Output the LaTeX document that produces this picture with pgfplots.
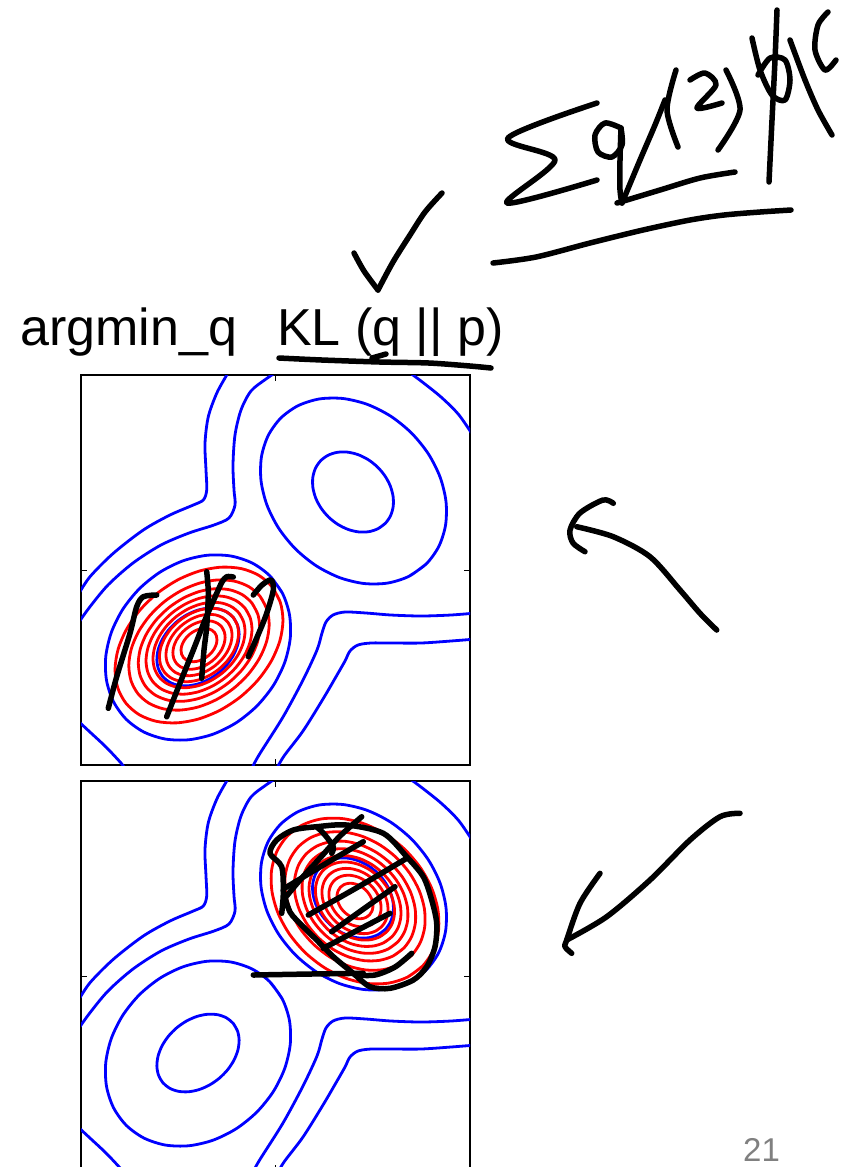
\documentclass[border=0pt]{standalone}
\usepackage{pgfplots}
\usepackage{pgfplotstable}
\usepackage{fontspec}
\setmainfont{Liberation Sans}
\pgfplotsset{compat=1.18}

\definecolor{pblue}{RGB}{0,0,255}
\definecolor{qred}{RGB}{255,0,0}
\definecolor{pagenum}{RGB}{128,128,128}

% unit circle, 15 degree steps (first two points repeated to close the curve)
\pgfplotstableread{
c s
1 0
0.9659 0.2588
0.8660 0.5
0.7071 0.7071
0.5 0.8660
0.2588 0.9659
0 1
-0.2588 0.9659
-0.5 0.8660
-0.7071 0.7071
-0.8660 0.5
-0.9659 0.2588
-1 0
-0.9659 -0.2588
-0.8660 -0.5
-0.7071 -0.7071
-0.5 -0.8660
-0.2588 -0.9659
0 -1
0.2588 -0.9659
0.5 -0.8660
0.7071 -0.7071
0.8660 -0.5
0.9659 -0.2588
1 0
0.9659 0.2588
}\unitcircle

% elliptical contour: style, centre u, centre v, semi-axes a, b, tilt (deg)
\newcommand\contourellipse[6]{%
  \addplot[#1] table[
    x expr={#2+(#4)*\thisrow{c}*cos(#6)+(#5)*\thisrow{s}*sin(#6)},
    y expr={#3-(#4)*\thisrow{c}*sin(#6)+(#5)*\thisrow{s}*cos(#6)}] {\unitcircle};}

\pgfplotsset{
  panel/.style={anchor=north west, width=389pt, height=390pt, scale only axis,
    xmin=0, xmax=389, ymin=0, ymax=390, y dir=reverse,
    xtick={194.5}, ytick={195}, xticklabels={}, yticklabels={},
    axis line style={black, line width=1.8pt},
    major tick style={black, line width=1pt}, major tick length=6pt},
  pline/.style={pblue, line width=2.8pt, smooth, mark=none},
  qline/.style={qred, line width=2.8pt, smooth, mark=none},
  ink/.style={black, line width=5.5pt, line cap=round, line join=round, smooth, mark=none},
}
\tikzset{heading/.style={anchor=base west, inner sep=0pt, font=\fontsize{52}{62}\selectfont}}

% the mixture p: contour lines shared by both panels
\newcommand\mixturecontours{%
  \addplot[pline] coordinates {(150,-8) (145.7,0) (135.7,18.3) (127.3,41.7) (124,68.3) (125,95) (125.7,115) (122.3,125) (112.3,130) (89,140) (62.3,155) (32.3,178.3) (9,201.7) (-3,220)};
  \addplot[pline] coordinates {(200,-6) (185,4) (170,16) (160,35) (154,60) (152,90) (153,115) (154,130) (148,143) (133,150) (108,158) (80,170) (52,188) (27,210) (8,233) (-4,250)};
  \addplot[pline] coordinates {(-4,345) (10,358) (25,372) (40,388) (44,394)};
  \addplot[pline] coordinates {(325,-5) (340,6) (360,22) (378,40) (395,65)};
  \addplot[pline] coordinates {(395,238) (370,240) (340,241) (310,240) (285,238) (264,237) (252,240) (245,247) (241,258) (236,275) (222,305) (202,342) (178,380) (170,395)};
  \addplot[pline] coordinates {(395,264) (370,266) (340,268) (310,268) (290,268) (277,270) (269,276) (264,286) (256,300) (242,324) (222,356) (203,381) (195,395)};
  \contourellipse{pline}{117}{272.5}{101.5}{83}{45}
  \contourellipse{pline}{117}{272}{46}{33}{40}
  \contourellipse{pline}{272.5}{116}{103}{82}{-45}
  \contourellipse{pline}{272}{117}{45}{35}{-44}
}

\begin{document}
\begin{tikzpicture}[x=1pt,y=1pt]
\useasboundingbox (0,0) rectangle (841,-1167);

% upper panel: q at the lower-left mode
\begin{axis}[panel, at={(81pt,-375pt)}]
  \mixturecontours
  \pgfplotsinvokeforeach{1,0.836,0.723,0.631,0.548,0.471,0.394,0.311,0.214}{
    \contourellipse{qline}{118}{270}{93.4*#1}{66.4*#1}{38.5}
  }
\end{axis}

% lower panel: q at the upper-right mode
\begin{axis}[panel, at={(81pt,-781pt)}]
  \mixturecontours
  \pgfplotsinvokeforeach{1,0.836,0.723,0.631,0.548,0.471,0.394,0.311,0.214}{
    \contourellipse{qline}{274}{120}{93.8*#1}{71.7*#1}{-43.7}
  }
\end{axis}

% page layer: heading, pen annotations, page number
\begin{axis}[anchor=north west, at={(0pt,0pt)}, width=841pt, height=1167pt,
  scale only axis, xmin=0, xmax=841, ymin=0, ymax=1167, y dir=reverse,
  hide axis, clip=false]
  \node[heading] at (axis cs:20,345) {argmin\_q};
  \node[heading] at (axis cs:277,345) {KL (q || p)};
  \node[anchor=base west, inner sep=0pt, text=pagenum, font=\fontsize{33}{40}\selectfont] at (axis cs:743,1161) {21};

  % underline and check mark
  \addplot[ink] coordinates {(279,358) (322,360) (380,362) (429,363) (470,366) (491,368)};
  \addplot[ink] coordinates {(372,358) (386,354)};
  \addplot[ink] coordinates {(354,253) (364,271) (378,290)};
  \addplot[ink] coordinates {(378,290) (393,262) (410,235) (425,212) (442,193)};

  % sum q(z) log ...
  \addplot[ink, smooth=false] coordinates {(597,103) (508,138) (555,160) (507,203) (597,180)};
  \addplot[ink] coordinates {(621,128) (605,123) (595,135) (598,152) (612,157) (622,145) (621,128)};
  \addplot[ink] coordinates {(621,128) (620,160) (620,190) (622,203)};
  \addplot[ink] coordinates {(622,203) (640,160) (655,125) (665,100)};
  \addplot[ink] coordinates {(676,70) (667,110) (678,147)};
  \addplot[ink] coordinates {(690,80) (705,73) (716,85) (697,108) (722,103)};
  \addplot[ink] coordinates {(726,70) (740,110) (718,150)};
  \addplot[ink] coordinates {(617,203) (660,190) (700,178) (735,172)};
  \addplot[ink] coordinates {(777,10) (775,60) (772,120) (769,182)};
  \addplot[ink] coordinates {(752,38) (760,70) (772,95) (785,100) (790,80) (785,60) (770,58) (758,75)};
  \addplot[ink] coordinates {(790,40) (805,80) (818,110) (832,135)};
  \addplot[ink] coordinates {(828,12) (818,25) (815,50) (825,70) (836,60)};
  \addplot[ink] coordinates {(493,263) (536,257) (590,243) (643,230) (690,220) (724,215) (760,212) (791,210)};

  % arrows on the right
  \addplot[ink] coordinates {(716.7,630) (700,613.3) (680,590) (650,556.7) (613.3,536.7) (576.7,526.7)};
  \addplot[ink] coordinates {(613.3,503.3) (603,500) (580,513) (570,530) (573,543) (585,551.7)};
  \addplot[ink] coordinates {(740,813.3) (720,816.7) (690,840) (650,880) (606.7,916.7) (566.7,940)};
  \addplot[ink] coordinates {(600,873.3) (580,903.3) (566.7,940) (565,946.7) (571.7,953.3)};

  % strokes over the upper panel
  \addplot[ink] coordinates {(108.3,708.3) (116.7,676.7) (130,633.3) (136.7,606.7) (143.3,596.7) (156.7,595)};
  \addplot[ink] coordinates {(166.7,716.7) (180,683) (193.3,650) (205,620) (216.7,593.3) (222,582) (226.7,576.7) (233.3,577)};
  \addplot[ink] coordinates {(201.7,678.3) (204,650) (206.7,626.7) (208.3,593.3) (206.7,571.7)};
  \addplot[ink] coordinates {(248.3,656.7) (258,635) (266.7,613.3) (273.3,590) (271,580) (262,585) (253.3,595)};

  % strokes over the lower panel
  \addplot[ink] coordinates {(281.7,913.3) (283.3,893.3) (281.7,866.7) (270,853.3) (276.7,840) (293.3,830) (316.7,826.7) (346.7,825) (383.3,833.3) (406.7,856.7) (423.3,876.7) (431.7,900) (436.7,923.3) (435,946.7) (426.7,966.7) (413.3,980) (390,988.3) (370,986.7) (353.3,973.3) (333.3,956.7) (316.7,940) (303.3,926.7) (290,912) (283,890)};
  \addplot[ink] coordinates {(411.7,953.3) (395,967) (375,975) (355,975)};
  \addplot[ink] coordinates {(316.7,826.7) (325,835) (333.3,846.7) (331.7,853.3)};
  \addplot[ink] coordinates {(283.3,900) (300,880) (320,858) (340,836) (361.7,816.7)};
  \addplot[ink] coordinates {(285,888) (325,864) (363.3,841.7)};
  \addplot[ink] coordinates {(308.3,915) (358,887) (406.7,858.3)};
  \addplot[ink] coordinates {(331.7,931.7) (362,910) (395,886.7)};
  \addplot[ink] coordinates {(323.3,948.3) (356,931) (390,913.3)};
  \addplot[ink] coordinates {(253.3,975) (310,974) (363.3,973.3)};
\end{axis}
\end{tikzpicture}
\end{document}
